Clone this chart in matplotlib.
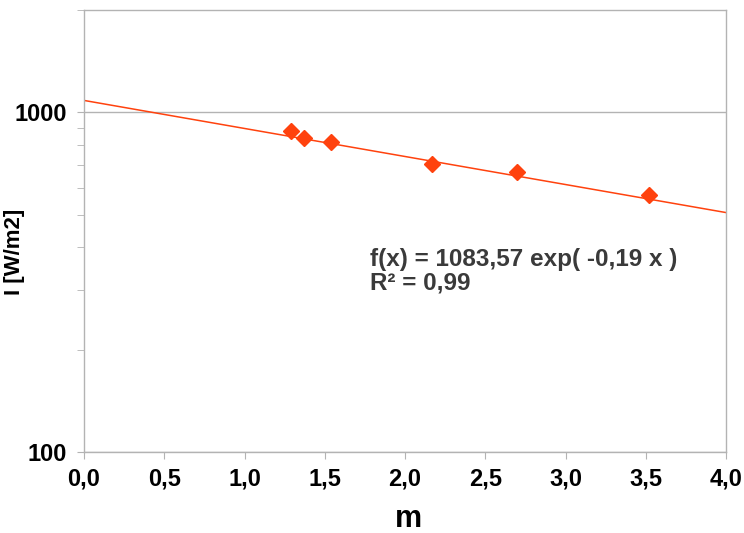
import matplotlib
matplotlib.use("Agg")
import matplotlib.pyplot as plt
import numpy as np
from matplotlib.ticker import FixedLocator, FuncFormatter, LogLocator, NullFormatter

# measured points
air_mass = [1.29, 1.37, 1.54, 2.17, 2.70, 3.52]
intensity = [879, 839, 816, 703, 666, 570]

# exponential trendline from the chart label
fit_a = 1083.57
fit_b = -0.19
fit_label = "f(x) = 1083,57 exp( -0,19 x )\nR² = 0,99"

x_ticks = [0.0, 0.5, 1.0, 1.5, 2.0, 2.5, 3.0, 3.5, 4.0]
y_ticks = [100, 1000]

ORANGE = "#ff420e"
GRID = "#b3b3b3"

plt.rcParams["font.family"] = ["Liberation Sans", "DejaVu Sans"]

fig = plt.figure(figsize=(7.44, 5.33), dpi=100)
ax = fig.add_axes([84 / 744, 1 - 452 / 533, 642 / 744, 442 / 533])

ax.set_yscale("log")
ax.set_xlim(0, 4)
ax.set_ylim(100, 2000)

xs = np.linspace(0, 4, 200)
ax.plot(xs, fit_a * np.exp(fit_b * xs), color=ORANGE, lw=1.1, zorder=2)
ax.plot(air_mass, intensity, ls="none", marker="D", ms=8, color=ORANGE, mec=ORANGE, zorder=3)

ax.text(1.78, 340, fit_label, fontsize=17.5, fontweight="bold", color="#3a3a3a",
        va="center", linespacing=1.0)

ax.xaxis.set_major_locator(FixedLocator(x_ticks))
ax.xaxis.set_major_formatter(FuncFormatter(lambda v, p: f"{v:.1f}".replace(".", ",")))
ax.yaxis.set_major_locator(FixedLocator(y_ticks))
ax.yaxis.set_major_formatter(FuncFormatter(lambda v, p: f"{v:.0f}"))
ax.yaxis.set_minor_locator(LogLocator(base=10, subs=np.arange(2, 10)))
ax.yaxis.set_minor_formatter(NullFormatter())

ax.grid(axis="y", which="major", color=GRID, lw=1)
for s in ax.spines.values():
    s.set_color(GRID)
    s.set_linewidth(1)

ax.tick_params(axis="both", which="major", length=5, color=GRID, labelsize=17)
ax.tick_params(axis="x", which="major", pad=6)
ax.tick_params(axis="y", which="major", pad=7)
ax.tick_params(axis="y", which="minor", length=5, color=GRID)
for lbl in ax.get_xticklabels() + ax.get_yticklabels():
    lbl.set_fontweight("bold")

ax.set_xlabel("m", fontsize=22, fontweight="bold", va="center")
ax.xaxis.set_label_coords(0.505, -0.152)
ax.set_ylabel("I [W/m2]", fontsize=16, fontweight="bold", va="center")
ax.yaxis.set_label_coords(-0.1075, 0.452)

fig.savefig("out.png", dpi=100)
